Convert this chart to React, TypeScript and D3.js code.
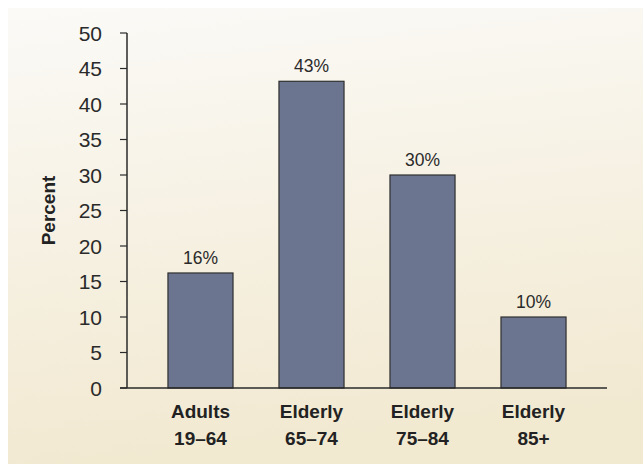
import React from "react";
import * as d3 from "d3";

const categories: string[][] = [
  ["Adults", "19–64"],
  ["Elderly", "65–74"],
  ["Elderly", "75–84"],
  ["Elderly", "85+"],
];
const values: number[] = [16.2, 43.2, 30, 10];
const valueLabels: string[] = ["16%", "43%", "30%", "10%"];
const yTicks: number[] = [0, 5, 10, 15, 20, 25, 30, 35, 40, 45, 50];
const yAxisTitle = "Percent";

const W = 643;
const H = 464;
const axisX = 127;
const axisRight = 607;
const yTop = 33;
const yBottom = 388;
const FONT = "'Liberation Sans', Arial, sans-serif";

export default function App() {
  const y = d3.scaleLinear().domain([0, 50]).range([yBottom, yTop]);
  const x = d3
    .scaleBand<number>()
    .domain(d3.range(categories.length))
    .range([axisX, axisRight])
    .paddingInner(0.414)
    .paddingOuter(0.369);
  return (
    <svg
      width={W}
      height={H}
      style={{ position: "absolute", left: 0, top: 0 }}
    >
      <defs>
        <linearGradient id="bg" x1="0" y1="0" x2="0.15" y2="1">
          <stop offset="0" stopColor="#fbfaf7" />
          <stop offset="0.5" stopColor="#f6f1e3" />
          <stop offset="1" stopColor="#f2e9d1" />
        </linearGradient>
      </defs>
      <rect x={0} y={0} width={W} height={H} fill="#ffffff" />
      <rect x={8} y={8} width={W - 8} height={H - 8} fill="url(#bg)" />
      {values.map((v, i) => (
        <g key={i}>
          <rect
            x={x(i)!}
            y={y(v)}
            width={x.bandwidth()}
            height={yBottom - y(v)}
            fill="#6b758f"
            stroke="#2f2f2f"
            strokeWidth={1.2}
          />
          <text
            x={x(i)! + x.bandwidth() / 2}
            y={y(v) - 9}
            textAnchor="middle"
            fontFamily={FONT}
            fontSize={17.5}
            fill="#2a2a2a"
          >
            {valueLabels[i]}
          </text>
          {categories[i].map((line, j) => (
            <text
              key={j}
              x={x(i)! + x.bandwidth() / 2}
              y={418 + j * 27}
              textAnchor="middle"
              fontFamily={FONT}
              fontWeight="bold"
              fontSize={19}
              fill="#222"
            >
              {line}
            </text>
          ))}
        </g>
      ))}
      <line x1={axisX} x2={axisX} y1={yTop} y2={yBottom} stroke="#2a2a2a" strokeWidth={1.5} />
      <line x1={120} x2={axisRight} y1={yBottom} y2={yBottom} stroke="#2a2a2a" strokeWidth={1.5} />
      {yTicks.map((t) => (
        <g key={t}>
          <line x1={120} x2={axisX} y1={y(t)} y2={y(t)} stroke="#2a2a2a" strokeWidth={1.2} />
          <text
            x={102}
            y={y(t)}
            dy="0.36em"
            textAnchor="end"
            fontFamily={FONT}
            fontSize={21}
            fill="#2a2a2a"
          >
            {t}
          </text>
        </g>
      ))}
      <text
        transform={`translate(55, ${(yTop + yBottom) / 2}) rotate(-90)`}
        textAnchor="middle"
        fontFamily={FONT}
        fontWeight="bold"
        fontSize={19}
        fill="#222"
      >
        {yAxisTitle}
      </text>
    </svg>
  );
}
